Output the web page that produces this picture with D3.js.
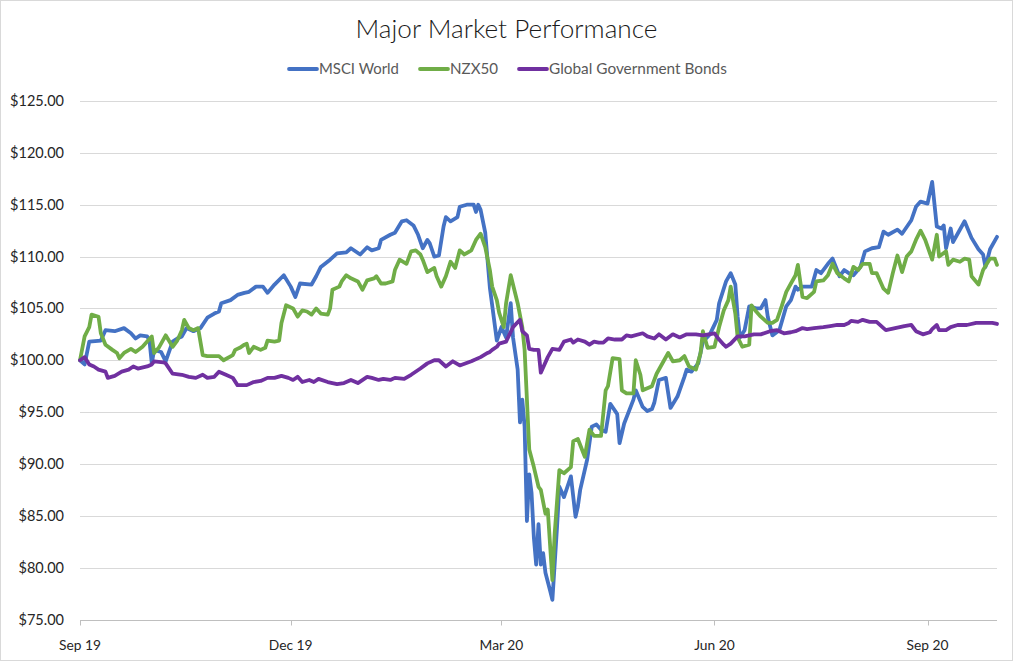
<!DOCTYPE html>
<html>
<head>
<meta charset="utf-8">
<script src="https://cdn.jsdelivr.net/npm/d3@7/dist/d3.min.js"></script>
<style>
body { margin: 0; background: #fff; }
svg { display: block; font-family: Lato, "Open Sans", sans-serif; }
</style>
</head>
<body>
<div id="vis"></div>
<script>
/* Data: day number counted from 1 Sep 2019, value of $100 invested */
var startDate = new Date(2019, 8, 1);
var tickDates = [new Date(2019, 8, 1), new Date(2019, 11, 1), new Date(2020, 2, 1), new Date(2020, 5, 1), new Date(2020, 8, 1)];
var tickLabels = ["Sep 19", "Dec 19", "Mar 20", "Jun 20", "Sep 20"];
var yTicks = [75, 80, 85, 90, 95, 100, 105, 110, 115, 120, 125];
var seriesNames = ["MSCI World", "NZX50", "Global Government Bonds"];

var msci = [[0,100.0],[2,99.6],[4,101.8],[9,101.9],[11,102.9],[15,102.8],[19,103.1],[22,102.6],[24,102.1],[26,102.4],
  [29,102.3],[30,101.9],[31,99.7],[32,101.0],[35,100.8],[37,99.9],[40,101.8],[42,102.1],[44,102.3],[46,103.1],
  [49,102.8],[52,103.1],[55,104.1],[58,104.5],[60,104.7],[61,105.5],[65,105.8],[68,106.3],[71,106.5],[73,106.6],
  [76,107.1],[79,107.1],[81,106.5],[84,107.3],[88,108.2],[91,107.1],[93,106.1],[95,107.4],[100,107.3],[102,108.1],
  [104,109.0],[108,109.7],[111,110.3],[115,110.4],[117,110.8],[121,110.2],[124,110.9],[126,110.6],[129,110.8],[130,111.6],
  [134,112.1],[136,112.3],[139,113.4],[141,113.5],[144,113.0],[146,112.1],[148,110.8],[150,111.6],[151,111.3],[153,110.0],
  [155,110.1],[157,112.9],[158,113.8],[160,113.4],[163,113.8],[164,114.8],[167,115.0],[170,115.0],[171,114.3],[172,115.0],
  [173,114.5],[175,112.3],[177,107.0],[180,101.9],[182,103.2],[184,102.2],[186,105.5],[187,102.2],[189,99.1],[190,94.0],
  [191,96.2],[192,93.6],[193,84.5],[194,89.0],[195,87.2],[196,82.9],[197,80.3],[198,84.2],[199,80.3],[200,81.4],
  [201,79.5],[203,77.8],[204,76.9],[206,83.9],[207,87.8],[209,86.8],[212,88.8],[214,84.9],[215,85.9],[216,87.5],
  [219,90.4],[221,93.6],[223,93.8],[225,93.3],[227,93.1],[229,95.8],[232,94.8],[233,92.0],[235,93.9],[239,96.2],
  [240,97.1],[243,95.5],[245,95.1],[247,95.3],[248,95.9],[250,98.1],[253,98.3],[255,95.4],[258,96.5],[261,98.4],
  [262,99.1],[264,98.9],[267,99.7],[269,101.8],[272,102.5],[275,103.9],[276,105.5],[279,107.6],[281,108.4],[283,107.3],
  [284,104.2],[285,102.2],[287,102.9],[289,105.2],[292,105.0],[294,105.0],[296,105.8],[297,104.2],[299,102.4],[302,102.9],
  [305,105.2],[307,105.8],[309,107.1],[310,106.8],[312,107.1],[316,107.1],[318,108.7],[320,108.4],[323,109.3],[325,109.8],
  [328,108.1],[330,108.7],[332,108.4],[334,108.2],[337,109.0],[339,110.5],[342,110.8],[345,110.9],[347,112.4],[349,112.1],
  [353,112.6],[355,112.2],[359,113.5],[361,114.8],[363,115.3],[366,115.1],[368,117.2],[370,112.9],[372,112.7],[373,113.0],
  [374,110.8],[376,112.7],[377,111.4],[379,112.2],[382,113.4],[385,111.8],[388,110.7],[390,110.2],[391,109.0],[393,110.7],
  [396,111.9]];

var nzx = [[0,100.0],[2,102.3],[4,103.2],[5,104.4],[8,104.2],[9,102.6],[11,101.5],[14,101.0],[16,100.7],[17,100.2],
  [19,100.7],[22,101.1],[24,100.8],[27,101.3],[29,101.8],[31,102.3],[32,100.7],[34,101.2],[37,102.4],[40,101.3],
  [42,101.9],[44,102.9],[45,103.9],[47,103.1],[49,102.9],[51,103.1],[53,100.5],[55,100.4],[60,100.4],[62,100.0],
  [66,100.5],[67,101.0],[69,101.2],[71,101.5],[72,101.6],[73,100.7],[75,101.3],[78,101.0],[80,101.2],[81,101.9],
  [84,101.8],[86,101.9],[87,103.6],[89,105.3],[92,105.0],[94,104.2],[96,104.8],[98,104.7],[100,104.4],[102,105.0],
  [104,104.5],[107,104.4],[108,105.0],[109,106.8],[112,107.1],[113,107.6],[115,108.2],[117,107.9],[120,107.6],[122,106.8],
  [124,107.7],[127,107.9],[128,108.1],[130,107.4],[132,107.4],[135,107.6],[136,108.7],[138,109.7],[141,109.3],[143,110.5],
  [145,110.6],[147,110.2],[148,109.7],[150,108.5],[153,108.9],[154,108.1],[156,107.1],[158,108.1],[160,109.5],[162,108.9],
  [164,110.6],[166,110.2],[169,110.6],[171,111.6],[173,112.2],[175,110.9],[177,108.7],[178,107.1],[180,105.8],[181,104.6],
  [183,103.2],[184,105.5],[186,108.2],[189,105.5],[191,103.2],[192,101.0],[193,96.2],[194,91.4],[196,89.7],[198,87.8],
  [199,87.5],[201,85.2],[202,85.6],[204,78.8],[205,83.3],[207,89.4],[209,89.1],[212,89.7],[213,92.2],[215,92.4],
  [218,90.7],[220,93.3],[222,92.7],[225,92.7],[227,97.1],[228,97.5],[230,100.2],[233,100.1],[234,97.1],[236,96.8],
  [239,96.8],[240,100.0],[242,98.6],[243,97.1],[247,97.5],[249,98.7],[252,99.9],[254,100.7],[256,99.9],[259,100.0],
  [261,100.4],[263,99.4],[266,99.1],[268,100.7],[269,102.8],[271,101.2],[274,101.3],[276,103.2],[278,104.8],[280,105.8],
  [281,107.1],[283,104.5],[284,102.2],[286,101.3],[289,101.5],[290,105.3],[292,104.7],[294,104.2],[297,103.6],[299,103.6],
  [301,103.9],[303,105.2],[305,106.6],[307,107.4],[309,108.2],[310,109.2],[312,106.1],[314,106.0],[317,106.6],[318,107.6],
  [321,107.7],[323,108.2],[325,109.3],[327,108.4],[330,107.9],[332,107.6],[334,109.0],[336,108.7],[338,109.3],[341,109.3],
  [342,108.4],[344,108.4],[347,106.9],[349,106.5],[351,108.4],[353,110.1],[355,108.5],[357,110.0],[359,110.5],[361,111.6],
  [363,112.5],[365,111.6],[368,109.7],[370,112.1],[371,110.0],[374,110.5],[375,109.2],[377,109.7],[380,109.5],[382,109.8],
  [384,109.7],[385,108.1],[388,107.3],[390,108.7],[393,109.8],[395,109.8],[396,109.2]];

var bonds = [[0,100.0],[2,100.3],[4,99.6],[6,99.4],[8,99.1],[11,98.9],[12,98.3],[15,98.5],[18,98.9],[21,99.1],
  [23,99.4],[25,99.2],[29,99.4],[31,99.6],[32,99.9],[36,99.8],[37,99.7],[40,98.7],[44,98.6],[47,98.4],
  [50,98.3],[53,98.6],[55,98.3],[58,98.4],[60,98.9],[63,98.6],[66,98.3],[68,97.6],[72,97.6],[75,97.9],
  [78,98.0],[81,98.3],[84,98.3],[87,98.5],[90,98.3],[92,98.1],[94,98.4],[96,97.9],[99,98.1],[101,97.9],
  [103,98.2],[107,97.9],[111,97.7],[114,97.8],[117,98.1],[120,97.8],[124,98.4],[126,98.3],[129,98.1],[131,98.2],
  [134,98.1],[136,98.3],[140,98.2],[143,98.6],[147,99.2],[150,99.7],[153,100.0],[155,100.0],[158,99.4],[161,99.9],
  [164,99.5],[169,99.9],[173,100.3],[176,100.7],[177,100.8],[178,101.0],[180,101.3],[181,101.6],[184,101.8],[187,103.2],
  [190,103.9],[191,102.8],[193,102.4],[194,101.1],[196,101.0],[198,101.0],[199,98.8],[202,100.3],[204,101.1],[207,101.0],
  [209,101.8],[212,102.0],[213,101.7],[215,102.0],[218,101.8],[220,101.5],[222,101.8],[224,101.7],[226,101.7],[228,102.1],
  [231,102.0],[234,102.0],[236,102.4],[238,102.3],[243,102.6],[245,102.3],[248,102.1],[250,102.5],[253,102.0],[256,102.5],
  [259,102.2],[262,102.5],[266,102.5],[269,102.4],[274,102.6],[276,102.0],[278,101.5],[279,101.3],[281,101.6],[284,102.3],
  [287,102.3],[291,102.5],[294,102.5],[298,102.8],[301,102.9],[304,102.6],[307,102.7],[309,102.8],[312,103.1],[314,103.0],
  [317,103.1],[321,103.2],[324,103.3],[327,103.4],[330,103.4],[332,103.6],[333,103.8],[336,103.7],[338,103.9],[341,103.7],
  [344,103.7],[347,103.1],[348,102.9],[352,103.1],[356,103.3],[359,103.4],[361,102.8],[364,102.5],[367,102.7],[368,103.0],
  [370,103.4],[371,102.9],[374,102.9],[376,103.2],[379,103.4],[383,103.4],[387,103.6],[391,103.6],[394,103.6],[396,103.5]];

var W = 1013, H = 661;
var margin = { top: 101, right: 16, bottom: 41.5, left: 80 };
var colors = ["#4472C4", "#70AD47", "#7030A0"];
var labelColor = "#262626";
var legendColor = "#595959";
var lineWidth = 3.8;

var svg = d3.select("#vis").append("svg").attr("width", W).attr("height", H);

// chart area border
svg.append("rect").attr("x", 0.5).attr("y", 0.5).attr("width", W - 1).attr("height", H - 1)
    .attr("fill", "#fff").attr("stroke", "#d9d9d9");

var x = d3.scaleTime()
    .domain([startDate, d3.timeDay.offset(startDate, 396)])
    .range([margin.left, W - margin.right]);
var y = d3.scaleLinear().domain([75, 125]).range([H - margin.bottom, margin.top]);

// scale a text so it takes the given width
function fit(sel, w) {
    var len = sel.node().getComputedTextLength();
    var fs = parseFloat(sel.attr("font-size"));
    sel.attr("font-size", fs * w / len);
    return fs * w / len;
}

/* gridlines */
svg.append("g").selectAll("line").data(yTicks.slice(1)).enter().append("line")
    .attr("x1", margin.left).attr("x2", W - margin.right)
    .attr("y1", function (d) { return Math.round(y(d)) + 0.5; })
    .attr("y2", function (d) { return Math.round(y(d)) + 0.5; })
    .attr("stroke", "#d9d9d9").attr("stroke-width", 1);

/* y labels */
var probe = svg.append("text").attr("font-size", 14).text("$125.00");
var yFs = fit(probe, 54);
probe.remove();
svg.append("g").selectAll("text").data(yTicks).enter().append("text")
    .attr("x", 64).attr("y", function (d) { return y(d); })
    .attr("dy", "0.35em").attr("text-anchor", "end")
    .attr("font-size", yFs).attr("fill", labelColor)
    .text(function (d) { return "$" + d3.format(".2f")(d); });

/* x axis */
var xAxisY = Math.round(y(75)) + 0.5;
svg.append("line").attr("x1", margin.left).attr("x2", W - margin.right)
    .attr("y1", xAxisY).attr("y2", xAxisY).attr("stroke", "#bfbfbf");
svg.append("g").selectAll("line").data(tickDates).enter().append("line")
    .attr("x1", function (d) { return Math.round(x(d)) + 0.5; })
    .attr("x2", function (d) { return Math.round(x(d)) + 0.5; })
    .attr("y1", xAxisY).attr("y2", xAxisY + 5).attr("stroke", "#bfbfbf");
var probeX = svg.append("text").attr("font-size", 14).text("Sep 19");
var xFs = fit(probeX, 42);
probeX.remove();
svg.append("g").selectAll("text").data(tickDates).enter().append("text")
    .attr("x", function (d) { return x(d); }).attr("y", 650)
    .attr("text-anchor", "middle").attr("font-size", xFs).attr("fill", labelColor)
    .text(function (d, i) { return tickLabels[i]; });

/* lines */
var line = d3.line()
    .x(function (d) { return x(d3.timeDay.offset(startDate, d[0])); })
    .y(function (d) { return y(d[1]); });
var plot = svg.append("g").attr("class", "lines");
[msci, nzx, bonds].forEach(function (s, i) {
    plot.append("path").datum(s)
        .attr("d", line)
        .attr("fill", "none")
        .attr("stroke", colors[i])
        .attr("stroke-width", lineWidth)
        .attr("stroke-linejoin", "round")
        .attr("stroke-linecap", "round");
});

/* title */
var title = svg.append("text").attr("x", W / 2).attr("y", 38)
    .attr("text-anchor", "middle").attr("font-size", 24).attr("font-weight", 300)
    .attr("fill", "#1a1a1a")
    .text("Major Market Performance");
fit(title, 302);

/* legend */
var legendWidths = [80, 48, 178];
var lx = 289;
seriesNames.forEach(function (name, i) {
    svg.append("line").attr("x1", lx).attr("x2", lx + 28).attr("y1", 69).attr("y2", 69)
        .attr("stroke", colors[i]).attr("stroke-width", lineWidth).attr("stroke-linecap", "round");
    var t = svg.append("text").attr("x", lx + 30).attr("y", 74)
        .attr("font-size", 14).attr("fill", legendColor).text(name);
    fit(t, legendWidths[i]);
    lx += 30 + legendWidths[i] + 21;
});
</script>
</body>
</html>
